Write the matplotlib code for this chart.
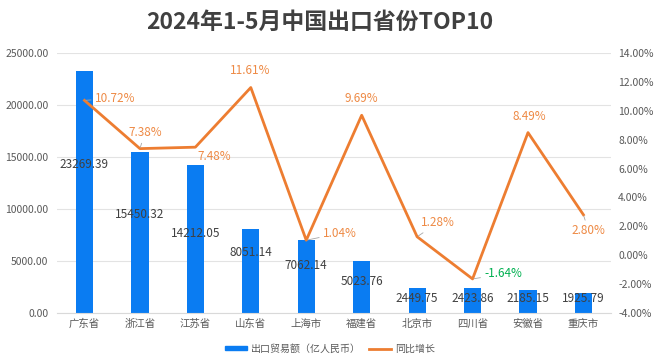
import matplotlib.pyplot as plt
from matplotlib.lines import Line2D
from matplotlib.patches import Patch

plt.rcParams['font.family'] = ['Noto Sans CJK SC', 'DejaVu Sans']

# ---------------- DATA ----------------
provinces = ["广东省", "浙江省", "江苏省", "山东省", "上海市",
             "福建省", "北京市", "四川省", "安徽省", "重庆市"]
export_value = [23269.39, 15450.32, 14212.05, 8051.14, 7062.14,
                5023.76, 2449.75, 2423.86, 2185.15, 1925.79]
growth = [10.72, 7.38, 7.48, 11.61, 1.04, 9.69, 1.28, -1.64, 8.49, 2.80]

# ---------------- LAYOUT ----------------
# height (left-axis units) where each bar value label sits
bar_label_y = [14300, 9500, 7600, 5850, 4600, 3000, 1350, 1350, 1350, 1350]
# growth label offsets in pixels and whether a leader line is drawn
growth_offsets = [(31, 2), (5, 16), (19, -9), (-1, 17), (34, 7),
                  (0, 17), (21, 14), (31, 5), (1, 16), (5, -16)]
growth_leader = [True, True, False, False, True, False, True, True, False, True]

BLUE = "#0A7CF2"
ORANGE = "#ED7D31"
LABEL_ORANGE = "#EE8A45"
GREEN = "#00B050"
GREY = "#595959"

fig = plt.figure(figsize=(6.6, 3.63), dpi=100)
ax = fig.add_axes([0.086, 0.1377, 0.84, 0.7163])
ax2 = ax.twinx()

x = list(range(len(provinces)))
ax.bar(x, export_value, width=0.31, color=BLUE, zorder=2)
ax.set_xlim(-0.5, len(provinces) - 0.5)
ax.set_ylim(0, 25000)
ax.set_yticks(range(0, 25001, 5000))
ax.set_yticklabels([f"{v:.2f}" for v in range(0, 25001, 5000)])
ax.set_xticks(x)
ax.set_xticklabels(provinces)
ax.grid(axis="y", color="#E3E3E3", lw=0.8, zorder=0)
ax.set_axisbelow(True)

for i, v in enumerate(export_value):
    ax.text(i, bar_label_y[i], f"{v:.2f}", ha="center", va="center",
            fontsize=8.5, color="#404040", zorder=3)

ax2.plot(x, growth, color=ORANGE, lw=2.0, zorder=3)
ax2.set_ylim(-4, 14)
ax2.set_yticks(range(-4, 15, 2))
ax2.set_yticklabels([f"{v:.2f}%" for v in range(-4, 15, 2)])

for i, g in enumerate(growth):
    col = GREEN if g < 0 else LABEL_ORANGE
    arrow = dict(arrowstyle="-", color="#A6A6A6", lw=0.6,
                 shrinkA=1, shrinkB=1) if growth_leader[i] else None
    ax2.annotate(f"{g:.2f}%", (i, g), xytext=growth_offsets[i],
                 textcoords="offset pixels", ha="center", va="center",
                 fontsize=8.5, color=col, arrowprops=arrow)

for a in (ax, ax2):
    for s in a.spines.values():
        s.set_visible(False)
    a.tick_params(length=0, labelsize=7.5, colors=GREY)
ax.spines["bottom"].set_visible(True)
ax.spines["bottom"].set_color("#D9D9D9")
ax.tick_params(axis="x", pad=4)
ax.tick_params(axis="y", pad=6)
ax2.tick_params(axis="y", pad=5)

fig.text(0.485, 0.938, "2024年1-5月中国出口省份TOP10", ha="center", va="center",
         fontsize=16.5, fontweight="bold", color="#404040")

handles = [Patch(color=BLUE), Line2D([], [], color=ORANGE, lw=2)]
fig.legend(handles, ["出口贸易额（亿人民币）", "同比增长"], loc="center",
           bbox_to_anchor=(0.5, 0.04), ncol=2, frameon=False, fontsize=7.2,
           handlelength=2.2, handleheight=0.35, handletextpad=0.4,
           columnspacing=0.8, labelcolor=GREY)

fig.savefig("out.png", dpi=100)
